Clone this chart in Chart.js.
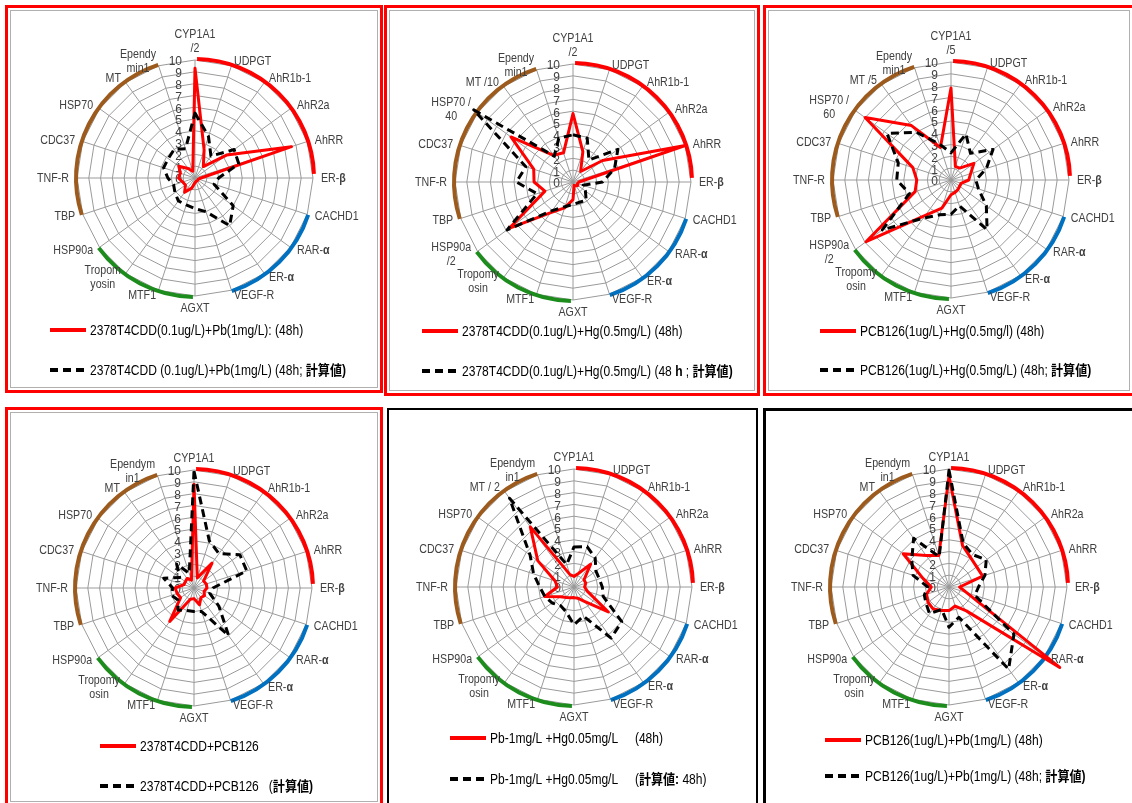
<!DOCTYPE html>
<html>
<head>
<meta charset="utf-8">
<script src="https://cdn.jsdelivr.net/npm/chart.js@4.4.1/dist/chart.umd.min.js"></script>
<style>
  html, body { margin: 0; padding: 0; background: #fff; }
  #sheet { position: relative; width: 1132px; height: 803px; overflow: hidden; background: #fff; }
  .frame { position: absolute; box-sizing: border-box; }
  canvas { position: absolute; }
</style>
</head>
<body>
<div id="sheet"></div>
<script>
// ---- data -------------------------------------------------------------
const tickValues = [0, 1, 2, 3, 4, 5, 6, 7, 8, 9, 10];

const genes = ['CYP1A1', 'UDPGT', 'AhR1b-1', 'AhR2a', 'AhRR', 'ER-β', 'CACHD1', 'RAR-α', 'ER-α', 'VEGF-R',
  'AGXT', 'MTF1', 'Tropomyosin', 'HSP90a', 'TBP', 'TNF-R', 'CDC37', 'HSP70', 'MT', 'Ependymin1'];

// axis captions as printed on each chart ("\n" = line break, "**" toggles bold)
const axisLabels1 = ['CYP1A1\n/2', 'UDPGT', 'AhR1b-1', 'AhR2a', 'AhRR', 'ER-**β**', 'CACHD1', 'RAR-**α**', 'ER-**α**', 'VEGF-R',
  'AGXT', 'MTF1', 'Tropom\nyosin', 'HSP90a', 'TBP', 'TNF-R', 'CDC37', 'HSP70', 'MT', 'Ependy\nmin1'];
const axisLabels2 = ['CYP1A1\n/2', 'UDPGT', 'AhR1b-1', 'AhR2a', 'AhRR', 'ER-**β**', 'CACHD1', 'RAR-**α**', 'ER-**α**', 'VEGF-R',
  'AGXT', 'MTF1', 'Tropomy\nosin', 'HSP90a\n/2', 'TBP', 'TNF-R', 'CDC37', 'HSP70 /\n40', 'MT /10', 'Ependy\nmin1'];
const axisLabels3 = ['CYP1A1\n/5', 'UDPGT', 'AhR1b-1', 'AhR2a', 'AhRR', 'ER-**β**', 'CACHD1', 'RAR-**α**', 'ER-**α**', 'VEGF-R',
  'AGXT', 'MTF1', 'Tropomy\nosin', 'HSP90a\n/2', 'TBP', 'TNF-R', 'CDC37', 'HSP70 /\n60', 'MT /5', 'Ependy\nmin1'];
const axisLabels4 = ['CYP1A1', 'UDPGT', 'AhR1b-1', 'AhR2a', 'AhRR', 'ER-**β**', 'CACHD1', 'RAR-**α**', 'ER-**α**', 'VEGF-R',
  'AGXT', 'MTF1', 'Tropomy\nosin', 'HSP90a', 'TBP', 'TNF-R', 'CDC37', 'HSP70', 'MT', 'Ependym\nin1'];
const axisLabels5 = ['CYP1A1', 'UDPGT', 'AhR1b-1', 'AhR2a', 'AhRR', 'ER-**β**', 'CACHD1', 'RAR-**α**', 'ER-**α**', 'VEGF-R',
  'AGXT', 'MTF1', 'Tropomy\nosin', 'HSP90a', 'TBP', 'TNF-R', 'CDC37', 'HSP70', 'MT / 2', 'Ependym\nin1'];
const axisLabels6 = axisLabels4;

// measured (solid) and calculated (dashed) relative expression, one value per gene
const measured1 = [9.3, 2.5, 1.2, 3.3, 8.6, 0.5, 0.3, 0.3, 0.3, 0.3, 0.4, 0.9, 1.5, 1.0, 1.1, 1.4, 1.3, 1.7, 1.0, 0.6];
const calculated1 = [5.5, 3.7, 2.3, 4.1, 3.9, 2.0, 1.7, 4.0, 5.0, 3.0, 2.6, 2.4, 2.4, 2.1, 1.9, 2.3, 2.8, 2.8, 3.0, 2.6];

const measured2 = [5.8, 2.7, 1.1, 3.1, 10.0, 0.5, 0.4, 0.5, 0.4, 0.3, 1.5, 2.3, 3.2, 6.7, 2.5, 3.3, 3.5, 6.5, 2.8, 2.6];
const calculated2 = [4.0, 3.9, 2.3, 4.7, 3.7, 2.5, 0.9, 1.3, 1.9, 1.8, 1.9, 2.2, 3.0, 6.9, 3.2, 4.8, 4.2, 10.4, 2.7, 3.9];

const measured3 = [7.8, 1.2, 1.25, 2.4, 1.75, 1.5, 0.9, 0.9, 1.0, 1.1, 1.25, 2.5, 3.7, 8.9, 3.2, 2.9, 3.4, 9.0, 5.7, 2.9];
const calculated3 = [2.3, 4.1, 2.8, 4.4, 3.15, 2.1, 2.45, 3.7, 5.2, 2.3, 2.9, 3.1, 4.0, 7.2, 3.7, 4.6, 4.7, 6.7, 5.0, 3.2];

const measured4 = [8.8, 0.9, 2.6, 1.0, 1.1, 1.1, 0.9, 1.1, 1.0, 1.5, 0.9, 1.0, 3.5, 1.4, 1.5, 1.6, 0.9, 0.9, 1.0, 0.7];
const calculated4 = [9.9, 4.2, 3.6, 4.8, 4.7, 1.6, 1.4, 2.6, 5.0, 2.1, 2.0, 2.0, 2.3, 1.7, 2.0, 1.8, 2.7, 1.5, 2.5, 1.3];

const measured5 = [0.9, 1.2, 2.4, 1.05, 1.05, 0.9, 1.2, 3.6, 1.5, 1.0, 0.9, 0.95, 1.1, 1.4, 2.6, 1.4, 1.7, 3.8, 6.3, 1.1];
const calculated5 = [3.4, 3.6, 3.05, 2.3, 2.25, 2.4, 2.6, 5.0, 5.35, 2.6, 3.2, 2.2, 1.95, 2.3, 2.6, 2.9, 3.6, 4.6, 9.3, 2.0];

const measured6 = [9.4, 3.7, 3.1, 2.9, 3.0, 0.9, 1.6, 11.6, 2.5, 1.7, 2.0, 2.1, 2.3, 2.2, 2.0, 1.5, 2.3, 4.8, 3.3, 2.8];
const calculated6 = [9.9, 3.9, 3.4, 3.9, 3.2, 2.5, 2.3, 6.8, 8.6, 2.7, 3.4, 2.0, 2.8, 2.4, 2.2, 1.8, 3.2, 3.9, 5.1, 2.7];

const legend1 = ['2378T4CDD(0.1ug/L)+Pb(1mg/L): (48h)', '2378T4CDD (0.1ug/L)+Pb(1mg/L) (48h; **計算値)**'];
const legend2 = ['2378T4CDD(0.1ug/L)+Hg(0.5mg/L) (48h)', '2378T4CDD(0.1ug/L)+Hg(0.5mg/L) (48 **h** ; **計算値)**'];
const legend3 = ['PCB126(1ug/L)+Hg(0.5mg/l) (48h)', 'PCB126(1ug/L)+Hg(0.5mg/L) (48h; **計算値)**'];
const legend4 = ['2378T4CDD+PCB126', '2378T4CDD+PCB126   (**計算値)**'];
const legend5 = ['Pb-1mg/L +Hg0.05mg/L     (48h)', 'Pb-1mg/L +Hg0.05mg/L     (**計算値:** 48h)'];
const legend6 = ['PCB126(1ug/L)+Pb(1mg/L) (48h)', 'PCB126(1ug/L)+Pb(1mg/L) (48h; **計算値)**'];

// gene-group arcs around the outer ring (degrees clockwise from the top)
const groupArcs = [
  { from: 1, to: 88, color: '#FF0000' },
  { from: 108, to: 162, color: '#0070C0' },
  { from: 181, to: 234, color: '#1C8C1C' },
  { from: 252, to: 342, color: '#9C5A1C' }
];

// ---- layout -----------------------------------------------------------
const panels = [
  { labels: axisLabels1, solid: measured1, dashed: calculated1, legend: legend1,
    box: [0, 0, 380, 400], center: [195, 178], radius: 118, legendAt: [50, 330, 370] },
  { labels: axisLabels2, solid: measured2, dashed: calculated2, legend: legend2,
    box: [380, 0, 380, 400], center: [573, 182], radius: 118, legendAt: [422, 331, 371] },
  { labels: axisLabels3, solid: measured3, dashed: calculated3, legend: legend3,
    box: [760, 0, 372, 400], center: [951, 180], radius: 118, legendAt: [820, 331, 370] },
  { labels: axisLabels4, solid: measured4, dashed: calculated4, legend: legend4,
    box: [0, 400, 380, 403], center: [194, 588], radius: 118, legendAt: [100, 746, 786] },
  { labels: axisLabels5, solid: measured5, dashed: calculated5, legend: legend5,
    box: [380, 400, 380, 403], center: [574, 587], radius: 118, legendAt: [450, 738, 779] },
  { labels: axisLabels6, solid: measured6, dashed: calculated6, legend: legend6,
    box: [760, 400, 372, 403], center: [949, 587], radius: 118, legendAt: [825, 740, 776] }
];

// outer frames of the six chart boxes
const frames = [
  { x: 5, y: 5, w: 378, h: 388, border: '3px solid #FF0000', inner: '#b0b0b0' },
  { x: 384, y: 5, w: 376, h: 391, border: '3px solid #FF0000', inner: '#b0b0b0' },
  { x: 763, y: 5, w: 372, h: 391, border: '3px solid #FF0000', inner: '#b0b0b0' },
  { x: 5, y: 407, w: 378, h: 400, border: '3px solid #FF0000', inner: '#b0b0b0' },
  { x: 387, y: 408, w: 371, h: 400, border: '2px solid #000000', inner: null },
  { x: 763, y: 408, w: 372, h: 400, border: '3px solid #000000', inner: null }
];

// ---- drawing helpers ----------------------------------------------------
const LATIN = '"Liberation Sans", Arial, sans-serif';
const WITH_CJK = '"Liberation Sans", "Noto Sans CJK JP", sans-serif';

function parseRich(str) {
  return str.split('**').map((t, i) => ({ t, bold: i % 2 === 1 })).filter(s => s.t.length);
}
function richWidth(ctx, segs, size, sx, family) {
  let w = 0;
  for (const s of segs) {
    ctx.font = (s.bold ? 'bold ' : '') + size + 'px ' + family;
    w += ctx.measureText(s.t).width * sx;
  }
  return w;
}
function drawRich(ctx, segs, x, y, size, sx, family) {
  for (const s of segs) {
    ctx.font = (s.bold ? 'bold ' : '') + size + 'px ' + family;
    const w = ctx.measureText(s.t).width;
    ctx.save();
    ctx.translate(x, y);
    ctx.scale(sx, 1);
    ctx.fillText(s.t, 0, 0);
    ctx.restore();
    x += w * sx;
  }
}

const decor = {
  id: 'radarDecor',
  beforeDatasetsDraw(chart) {
    const scale = chart.scales.r;
    const ctx = chart.ctx;
    const cx = scale.xCenter, cy = scale.yCenter, R = scale.drawingArea;
    ctx.save();
    // group arcs
    ctx.lineWidth = 4;
    ctx.lineCap = 'butt';
    for (const a of groupArcs) {
      ctx.strokeStyle = a.color;
      ctx.beginPath();
      ctx.arc(cx, cy, R + 1, (a.from - 90) * Math.PI / 180, (a.to - 90) * Math.PI / 180);
      ctx.stroke();
    }
    // radial tick values, left of the top spoke
    ctx.fillStyle = '#404040';
    ctx.textAlign = 'right';
    ctx.textBaseline = 'middle';
    ctx.font = '12px ' + LATIN;
    for (const v of tickValues) {
      const d = scale.getDistanceFromCenterForValue(v);
      ctx.fillText(String(v), cx - 13, cy - d + 2);
    }
    ctx.restore();
  },
  afterDraw(chart) {
    const cfg = chart.config.options.plugins.radarDecor;
    const scale = chart.scales.r;
    const ctx = chart.ctx;
    const R = scale.drawingArea;
    const n = cfg.labels.length;
    const size = 13, sx = 0.82, lh = 14;
    ctx.save();
    ctx.fillStyle = '#404040';
    ctx.textBaseline = 'middle';
    ctx.textAlign = 'left';
    cfg.labels.forEach((lab, i) => {
      const p = scale.getPointPosition(i, R);
      const th = i * 2 * Math.PI / n;
      const s = Math.sin(th), c = Math.cos(th);
      const lines = lab.split('\n').map(parseRich);
      const widths = lines.map(l => richWidth(ctx, l, size, sx, LATIN));
      const bw = Math.max(...widths);
      let left, firstY;
      if (Math.abs(s) < 1e-6) {
        left = p.x - bw / 2;
        firstY = c > 0 ? p.y - 12 - (lines.length - 1) * lh : p.y + 12;
      } else {
        left = s > 0 ? p.x + 8 * s : p.x - 8 * Math.abs(s) - bw;
        firstY = p.y - 5 * c - (lines.length - 1) * lh / 2;
      }
      lines.forEach((segs, k) => {
        drawRich(ctx, segs, left + (bw - widths[k]) / 2, firstY + k * lh, size, sx, LATIN);
      });
    });
    // legend
    const [lx, y1, y2] = cfg.legendAt;
    const sets = chart.data.datasets;
    [y1, y2].forEach((y, k) => {
      const ds = sets[k];
      ctx.save();
      ctx.strokeStyle = ds.borderColor;
      ctx.lineWidth = 4;
      ctx.setLineDash(ds.borderDash || []);
      ctx.beginPath();
      ctx.moveTo(lx, y);
      ctx.lineTo(lx + 36, y);
      ctx.stroke();
      ctx.restore();
      ctx.fillStyle = '#000';
      drawRich(ctx, parseRich(ds.label), lx + 40, y + 1, 14, 0.86, WITH_CJK);
    });
    ctx.restore();
  }
};

// ---- build ---------------------------------------------------------------
const sheet = document.getElementById('sheet');

for (const f of frames) {
  const d = document.createElement('div');
  d.className = 'frame';
  Object.assign(d.style, { left: f.x + 'px', top: f.y + 'px', width: f.w + 'px', height: f.h + 'px', border: f.border });
  if (f.inner) d.style.boxShadow = 'inset 0 0 0 2px #fff, inset 0 0 0 3px ' + f.inner;
  sheet.appendChild(d);
}

panels.forEach((p) => {
  const [bx, by, bw, bh] = p.box;
  const cv = document.createElement('canvas');
  cv.width = bw; cv.height = bh;
  Object.assign(cv.style, { left: bx + 'px', top: by + 'px', width: bw + 'px', height: bh + 'px' });
  sheet.appendChild(cv);
  const cx = p.center[0] - bx, cy = p.center[1] - by, R = p.radius;
  new Chart(cv, {
    type: 'radar',
    data: {
      labels: genes,
      datasets: [
        { label: p.legend[0], data: p.solid, borderColor: '#FF0000', borderWidth: 3,
          pointRadius: 0, fill: false, order: 1, clip: false },
        { label: p.legend[1], data: p.dashed, borderColor: '#000000', borderWidth: 3, borderDash: [8, 5],
          pointRadius: 0, fill: false, order: 0, clip: false }
      ]
    },
    options: {
      responsive: false,
      animation: false,
      devicePixelRatio: 1,
      layout: { padding: { left: cx - R, top: cy - R, right: bw - (cx + R), bottom: bh - (cy + R) } },
      elements: { line: { tension: 0, borderJoinStyle: 'round', borderCapStyle: 'butt' } },
      plugins: {
        legend: { display: false },
        tooltip: { enabled: false },
        radarDecor: {
          labels: p.labels,
          legendAt: [p.legendAt[0] - bx, p.legendAt[1] - by, p.legendAt[2] - by]
        }
      },
      scales: {
        r: {
          min: 0, max: 10,
          ticks: { stepSize: 1, display: false },
          grid: { color: '#9a9a9a', lineWidth: 1 },
          angleLines: { color: '#9a9a9a', lineWidth: 1 },
          pointLabels: { display: false }
        }
      }
    },
    plugins: [decor]
  });
});
</script>
</body>
</html>
